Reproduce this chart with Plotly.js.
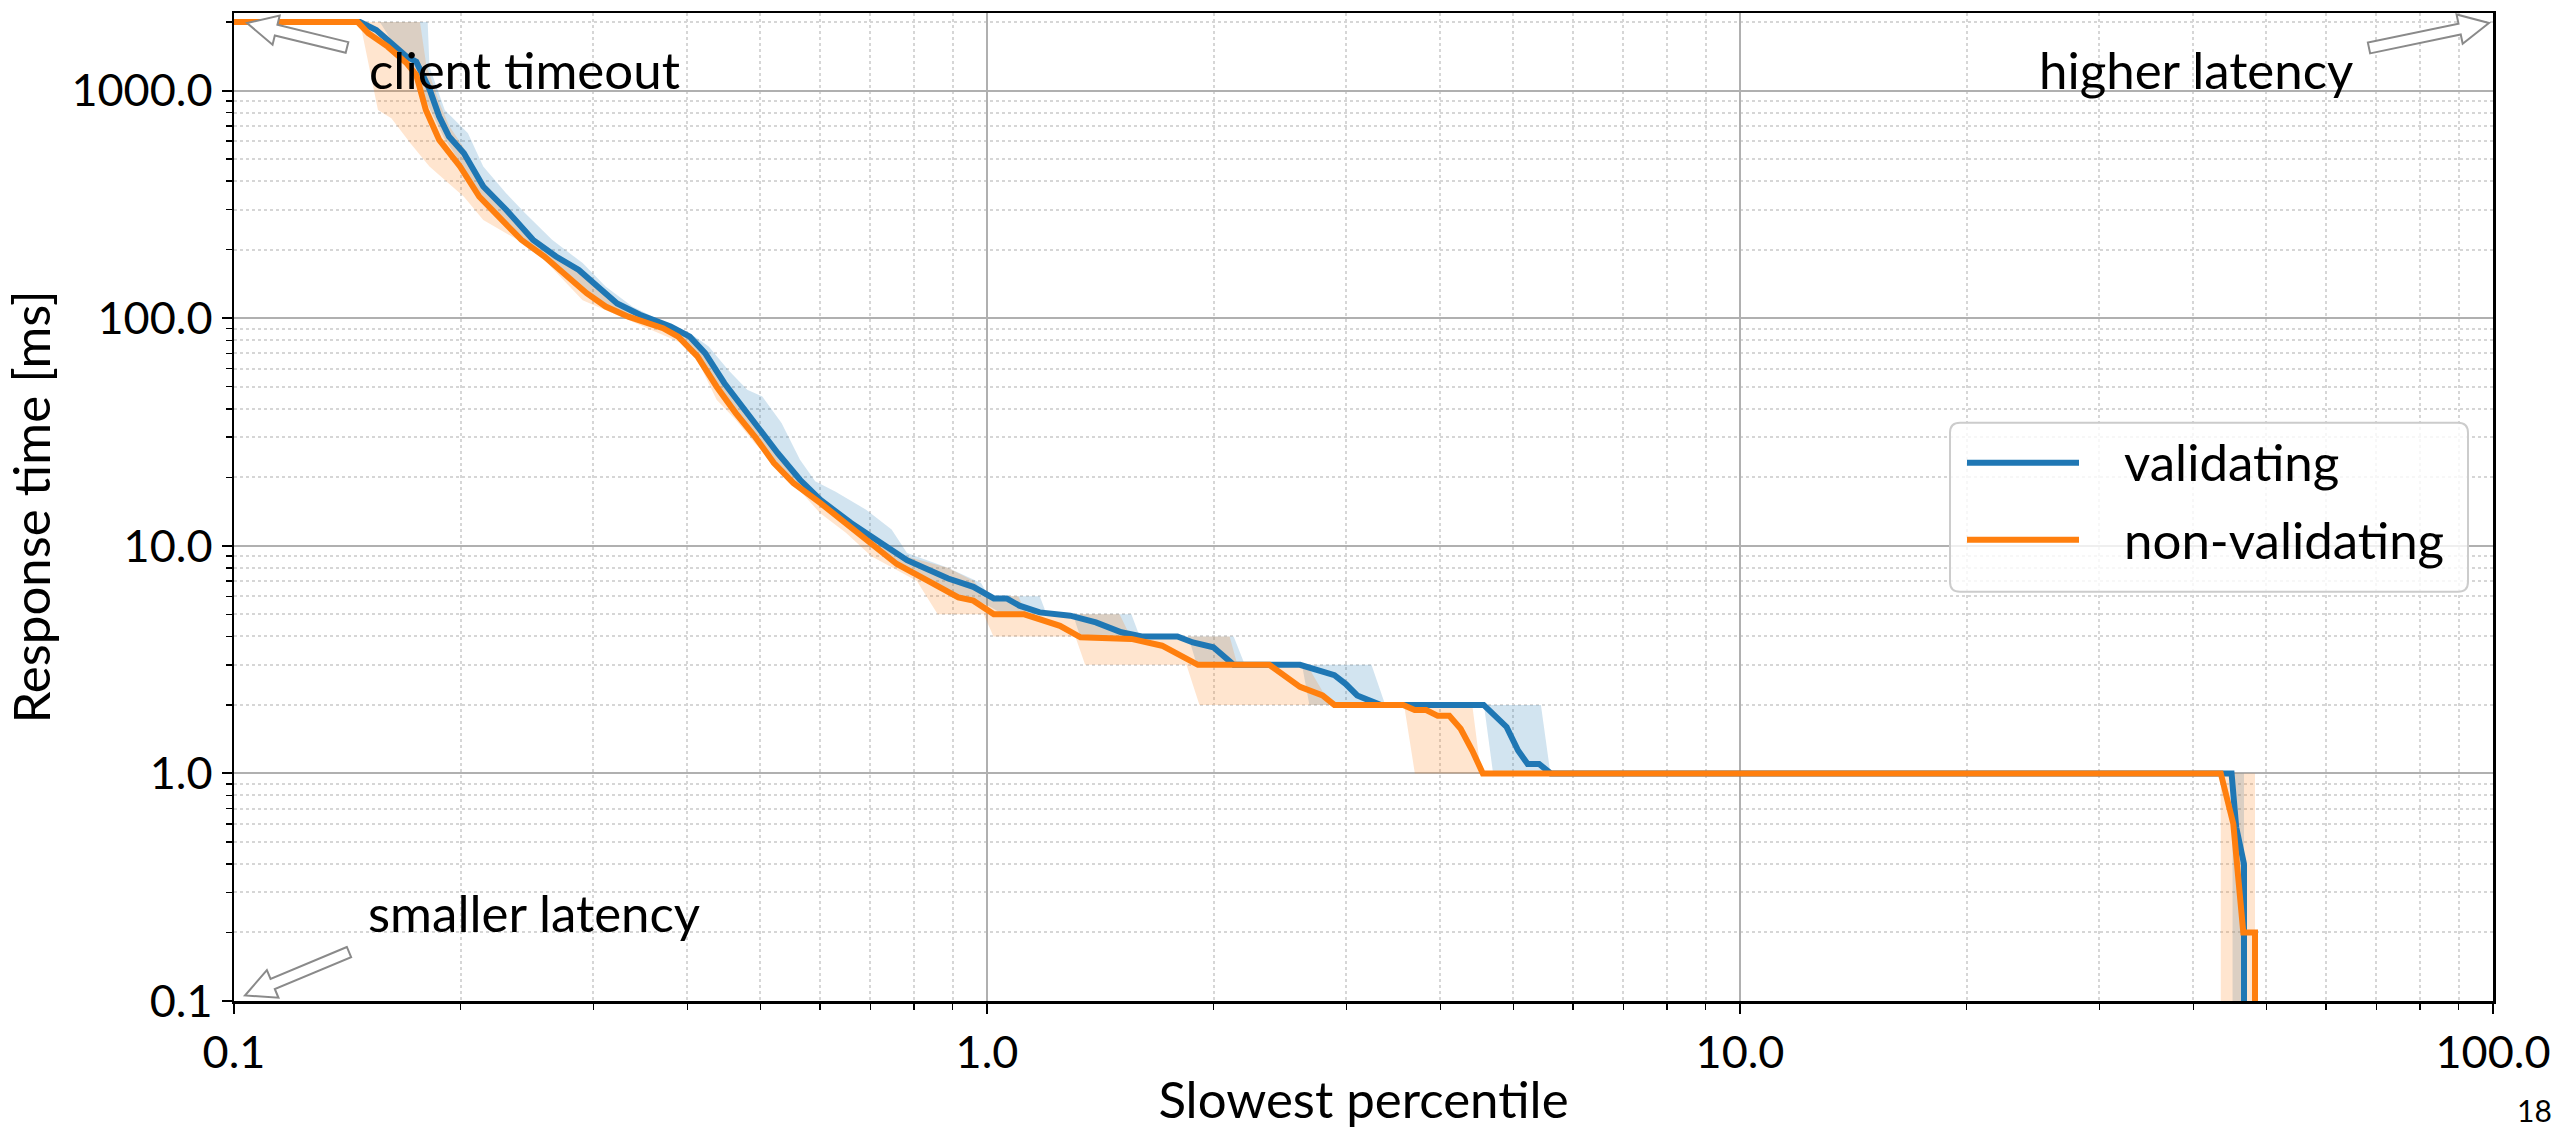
<!DOCTYPE html>
<html>
<head>
<meta charset="utf-8">
<script src="https://cdn.plot.ly/plotly-3.0.1.min.js"></script>
<style>html,body{margin:0;padding:0;background:#fff;}</style>
</head>
<body>
<div id="chart"></div>
<script>
// ---------------- data ----------------
const seriesNames = ['validating', 'non-validating'];

// median curves: slowest percentile [%] vs response time [ms]
const validatingX = [0.1, 0.147, 0.1545, 0.162, 0.1696, 0.1746, 0.182, 0.1873, 0.193, 0.202, 0.2143, 0.23, 0.2495, 0.2677, 0.287, 0.304, 0.3227, 0.346, 0.38, 0.403, 0.4223, 0.448, 0.469, 0.497, 0.5275, 0.5645, 0.601, 0.6597, 0.7245, 0.783, 0.888, 0.959, 1.021, 1.062, 1.104, 1.175, 1.29, 1.395, 1.508, 1.605, 1.79, 1.877, 1.998, 2.126, 2.604, 2.893, 2.996, 3.102, 3.33, 4.566, 4.898, 5.073, 5.224, 5.41, 5.605, 44.96, 45.6, 46.7, 46.7];
const validatingY = [2000, 2000, 1846, 1616, 1410, 1340, 1006, 769, 628, 531, 379, 299, 221, 186.6, 163, 137.7, 116, 103.5, 91.9, 83, 70.2, 51.8, 42.4, 33.4, 25.5, 19.5, 15.9, 12.6, 10.2, 8.65, 7.18, 6.6, 5.87, 5.87, 5.46, 5.1, 4.93, 4.61, 4.17, 4.0, 4.0, 3.76, 3.58, 3.0, 3.0, 2.7, 2.47, 2.2, 2.0, 2.0, 1.6, 1.26, 1.1, 1.1, 1.0, 1.0, 0.58, 0.4, 0.01];

const nonValidatingX = [0.1, 0.146, 0.1508, 0.16, 0.1696, 0.1746, 0.1798, 0.1873, 0.1997, 0.2117, 0.2245, 0.2408, 0.2584, 0.274, 0.294, 0.3116, 0.334, 0.3713, 0.389, 0.4125, 0.4375, 0.4638, 0.4917, 0.5213, 0.553, 0.601, 0.691, 0.759, 0.834, 0.916, 0.959, 1.021, 1.121, 1.175, 1.25, 1.331, 1.555, 1.708, 1.79, 1.906, 2.371, 2.604, 2.79, 2.893, 3.571, 3.698, 3.83, 3.968, 4.111, 4.256, 4.41, 4.555, 43.5, 45.2, 46.6, 48.3, 48.3];
const nonValidatingY = [2000, 2000, 1787, 1560, 1319, 1172, 822, 607, 463, 342, 280, 221, 186.6, 157.7, 128.8, 112.5, 101.6, 90.4, 83, 67.9, 50, 38.3, 30.2, 23.1, 18.9, 15.4, 10.6, 8.32, 7.03, 5.93, 5.74, 5.0, 5.0, 4.77, 4.45, 3.96, 3.9, 3.64, 3.35, 3.0, 3.0, 2.4, 2.2, 2.0, 2.0, 1.9, 1.9, 1.79, 1.79, 1.57, 1.26, 1.0, 1.0, 0.6, 0.2, 0.2, 0.01];

// spread bands (max / min over runs)
const validatingUpperX = [0.1, 0.1808, 0.1818, 0.1905, 0.2045, 0.2143, 0.2298, 0.2436, 0.2645, 0.2904, 0.3115, 0.338, 0.3669, 0.403, 0.427, 0.453, 0.4804, 0.503, 0.5335, 0.5645, 0.5913, 0.6295, 0.691, 0.747, 0.783, 0.887, 0.982, 1.005, 1.175, 1.2, 1.555, 1.595, 2.126, 2.2, 3.24, 3.38, 5.44, 5.6, 46.7, 46.7];
const validatingUpperY = [2000, 2000, 1274, 822, 650, 464, 354, 289, 221, 174.6, 137.8, 112.5, 98.4, 86, 75.1, 59.3, 48.5, 45.3, 34.6, 23.9, 19.2, 17.3, 14.4, 11.8, 9.3, 8.0, 6.86, 6.0, 6.0, 5.0, 5.0, 4.0, 4.0, 3.0, 3.0, 2.0, 2.0, 1.0, 1.0, 0.01];
const validatingLowerX = [0.1, 0.1562, 0.165, 0.175, 0.183, 0.19, 0.2, 0.213, 0.226, 0.243, 0.26, 0.276, 0.296, 0.314, 0.336, 0.373, 0.39, 0.414, 0.44, 0.466, 0.495, 0.525, 0.557, 0.605, 0.695, 0.76, 0.84, 0.92, 0.96, 1.0, 1.05, 1.3, 1.33, 1.85, 1.9, 2.62, 2.68, 4.57, 4.7, 45.1, 45.1];
const validatingLowerY = [2000, 2000, 1500, 1100, 800, 620, 480, 350, 285, 222, 188, 160, 130, 113, 102, 91, 84, 69, 51, 39, 30.5, 23.5, 19.2, 15.6, 10.8, 8.5, 7.1, 6.0, 5.8, 5.5, 5.0, 5.0, 4.0, 4.0, 3.0, 3.0, 2.0, 2.0, 1.0, 1.0, 0.01];

const nonValidatingUpperX = [0.1, 0.1766, 0.18, 0.187, 0.193, 0.202, 0.214, 0.23, 0.25, 0.268, 0.287, 0.304, 0.322, 0.346, 0.38, 0.403, 0.422, 0.448, 0.469, 0.497, 0.528, 0.5645, 0.601, 0.66, 0.72, 0.78, 0.887, 0.96, 1.0, 1.1, 1.13, 1.5, 1.55, 2.1, 2.15, 2.66, 2.86, 4.41, 4.53, 48.3, 48.3];
const nonValidatingUpperY = [2000, 2000, 1300, 900, 700, 560, 400, 310, 228, 192, 167, 141, 118, 104, 92, 84, 71, 53, 43, 34, 26, 20, 16.3, 12.9, 10.5, 9.0, 8.0, 7.0, 6.0, 6.0, 5.0, 5.0, 4.0, 4.0, 3.0, 3.0, 2.0, 2.0, 1.0, 1.0, 0.01];
const nonValidatingLowerX = [0.1, 0.147, 0.1553, 0.1618, 0.1715, 0.1818, 0.202, 0.2143, 0.2379, 0.2584, 0.2904, 0.3265, 0.3669, 0.3937, 0.4125, 0.4374, 0.4637, 0.4917, 0.573, 0.6006, 0.6495, 0.7023, 0.807, 0.86, 0.99, 1.02, 1.31, 1.35, 1.84, 1.915, 3.58, 3.7, 43.5, 43.5];
const nonValidatingLowerY = [2000, 2000, 822, 756, 587, 464, 342, 270, 221, 180, 120, 101.6, 86, 77.6, 65.6, 43.8, 35.8, 28.2, 16.5, 13.9, 11.4, 8.99, 7.0, 5.0, 5.0, 4.0, 4.0, 3.0, 3.0, 2.0, 2.0, 1.0, 1.0, 0.01];

// axes
const xTickVals = [0.1, 1, 10, 100];
const xTickText = ['0.1', '1.0', '10.0', '100.0'];
const yTickVals = [0.1, 1, 10, 100, 1000];
const yTickText = ['0.1', '1.0', '10.0', '100.0', '1000.0'];
const xTitle = 'Slowest percentile';
const yTitle = 'Response time [ms]';
const cornerLabels = ['client timeout', 'higher latency', 'smaller latency'];
const pageNumber = '18';

// ---------------- styling / layout ----------------
const BLUE = '#1f77b4', ORANGE = '#ff7f0e';
const W = 2555, H = 1129;
const L = 234, R = 2493, T = 13, B = 1001.5;
const FONT = 'Lato, "Open Sans", sans-serif';
const LW = 6;
const px = x => (x - L) / (R - L);
const py = y => (B - y) / (B - T);

function bandPolygon(ux, uy, lx, ly) {
  return {x: ux.concat(lx.slice().reverse()), y: uy.concat(ly.slice().reverse())};
}
const bandV = bandPolygon(validatingUpperX, validatingUpperY, validatingLowerX, validatingLowerY);
const bandN = bandPolygon(nonValidatingUpperX, nonValidatingUpperY, nonValidatingLowerX, nonValidatingLowerY);

const traces = [
  {x: bandV.x, y: bandV.y, type: 'scatter', mode: 'lines', fill: 'toself',
   fillcolor: 'rgba(31,119,180,0.2)', line: {width: 0}, hoverinfo: 'skip', showlegend: false},
  {x: bandN.x, y: bandN.y, type: 'scatter', mode: 'lines', fill: 'toself',
   fillcolor: 'rgba(255,127,14,0.2)', line: {width: 0}, hoverinfo: 'skip', showlegend: false},
  {x: validatingX, y: validatingY, type: 'scatter', mode: 'lines', name: seriesNames[0],
   line: {color: BLUE, width: LW}},
  {x: nonValidatingX, y: nonValidatingY, type: 'scatter', mode: 'lines', name: seriesNames[1],
   line: {color: ORANGE, width: LW}}
];

// hollow block arrows (pixel geometry -> paper coordinates)
function hollowArrow(tail, tip) {
  const dx = tip[0] - tail[0], dy = tip[1] - tail[1];
  const len = Math.hypot(dx, dy);
  const ux = dx / len, uy = dy / len, nx = -uy, ny = ux;
  const hl = 30, hw = 15, sw = 5.5;
  const bx = tip[0] - ux * hl, by = tip[1] - uy * hl;
  const pts = [
    [tail[0] + nx * sw, tail[1] + ny * sw],
    [bx + nx * sw, by + ny * sw],
    [bx + nx * hw, by + ny * hw],
    tip,
    [bx - nx * hw, by - ny * hw],
    [bx - nx * sw, by - ny * sw],
    [tail[0] - nx * sw, tail[1] - ny * sw]
  ];
  const path = pts.map((p, i) => (i ? 'L' : 'M') + px(p[0]).toFixed(5) + ',' + py(p[1]).toFixed(5)).join(' ') + ' Z';
  return {type: 'path', xref: 'paper', yref: 'paper', path: path,
          line: {color: '#8a8a8a', width: 2}, fillcolor: 'white', layer: 'above'};
}

function roundedRect(x0, y0, x1, y1, r) {
  const P = (x, y) => px(x).toFixed(5) + ',' + py(y).toFixed(5);
  return 'M' + P(x0 + r, y0) + ' L' + P(x1 - r, y0) + ' Q' + P(x1, y0) + ' ' + P(x1, y0 + r) +
    ' L' + P(x1, y1 - r) + ' Q' + P(x1, y1) + ' ' + P(x1 - r, y1) +
    ' L' + P(x0 + r, y1) + ' Q' + P(x0, y1) + ' ' + P(x0, y1 - r) +
    ' L' + P(x0, y0 + r) + ' Q' + P(x0, y0) + ' ' + P(x0 + r, y0) + ' Z';
}

const shapes = [
  hollowArrow([347, 47.5], [247, 23]),
  hollowArrow([2369, 48], [2489, 23]),
  hollowArrow([349, 952.5], [245, 996]),
  {type: 'path', xref: 'paper', yref: 'paper', path: roundedRect(1950, 423, 2468, 592, 10),
   line: {color: '#cccccc', width: 2}, fillcolor: 'rgba(255,255,255,0.8)', layer: 'above'},
  {type: 'line', xref: 'paper', yref: 'paper', x0: px(1967), x1: px(2079), y0: py(463), y1: py(463),
   line: {color: BLUE, width: LW}, layer: 'above'},
  {type: 'line', xref: 'paper', yref: 'paper', x0: px(1967), x1: px(2079), y0: py(540), y1: py(540),
   line: {color: ORANGE, width: LW}, layer: 'above'}
];

const annFont = {family: FONT, size: 51, color: 'black'};
const annotations = [
  {xref: 'paper', yref: 'paper', x: px(367), y: py(70), xanchor: 'left', yanchor: 'middle',
   text: cornerLabels[0], showarrow: false, font: annFont},
  {xref: 'paper', yref: 'paper', x: px(2355), y: py(70), xanchor: 'right', yanchor: 'middle',
   text: cornerLabels[1], showarrow: false, font: annFont},
  {xref: 'paper', yref: 'paper', x: px(366), y: py(913), xanchor: 'left', yanchor: 'middle',
   text: cornerLabels[2], showarrow: false, font: annFont},
  {xref: 'paper', yref: 'paper', x: px(2122), y: py(462), xanchor: 'left', yanchor: 'middle',
   text: seriesNames[0], showarrow: false, font: annFont},
  {xref: 'paper', yref: 'paper', x: px(2122), y: py(540), xanchor: 'left', yanchor: 'middle',
   text: seriesNames[1], showarrow: false, font: annFont},
  {xref: 'paper', yref: 'paper', x: px(2534), y: py(1111), xanchor: 'center', yanchor: 'middle',
   text: pageNumber, showarrow: false, font: {family: FONT, size: 30, color: 'black'}}
];

function axisStyle(extra) {
  return Object.assign({
    type: 'log',
    tickmode: 'array',
    ticks: 'outside', ticklen: 10, tickwidth: 2, tickcolor: 'black',
    showline: true, linecolor: 'black', linewidth: 2.5, mirror: true,
    showgrid: true, gridcolor: '#b0b0b0', gridwidth: 2,
    zeroline: false,
    tickfont: {family: FONT, size: 45, color: 'black'},
    minor: {dtick: 'D1', ticks: 'outside', ticklen: 6, tickwidth: 1.5, tickcolor: 'black',
            showgrid: true, gridcolor: '#d6d6d6', griddash: 'dot', gridwidth: 2},
    fixedrange: true
  }, extra);
}

const layout = {
  width: W, height: H,
  margin: {l: L, r: W - R, t: T, b: H - B, pad: 0},
  paper_bgcolor: 'white', plot_bgcolor: 'white',
  font: {family: FONT, size: 51, color: 'black'},
  showlegend: false,
  xaxis: axisStyle({range: [-1, 2], tickvals: xTickVals, ticktext: xTickText,
    title: {text: xTitle, font: {family: FONT, size: 51, color: 'black'}, standoff: 20}}),
  yaxis: axisStyle({range: [-1, 3.341], tickvals: yTickVals, ticktext: yTickText,
    title: {text: yTitle, font: {family: FONT, size: 51, color: 'black'}, standoff: 16}}),
  shapes: shapes,
  annotations: annotations
};

Plotly.newPlot('chart', traces, layout, {staticPlot: true, displayModeBar: false});
</script>
</body>
</html>
